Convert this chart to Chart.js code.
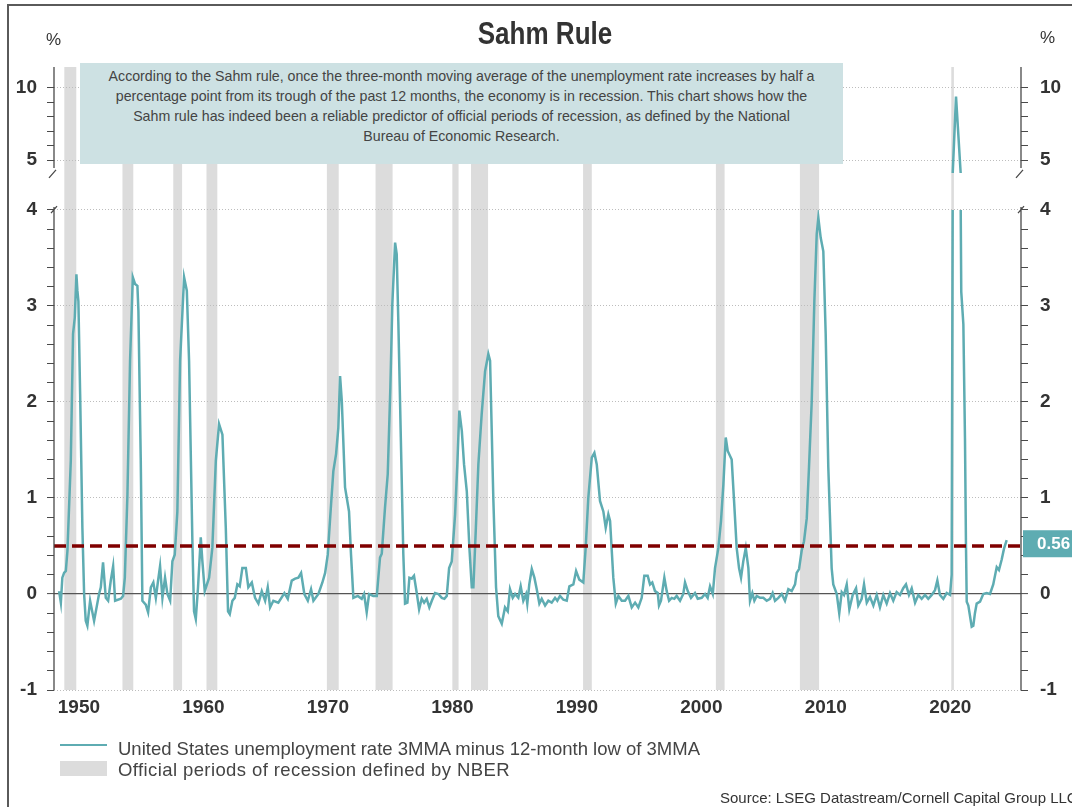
<!DOCTYPE html>
<html>
<head>
<meta charset="utf-8">
<title>Sahm Rule</title>
<script src="https://cdn.jsdelivr.net/npm/chart.js@4.4.1/dist/chart.umd.min.js"></script>
<style>
  html, body { margin: 0; padding: 0; background: #fff; }
  #page { position: relative; width: 1072px; height: 807px; overflow: hidden; font-family: 'Liberation Sans', Arial, sans-serif; }
  #chart { position: absolute; left: 0; top: 0; }
  #frame { position: absolute; left: 7px; top: 4px; width: 1200px; height: 900px; border-left: 2px solid #5a5a5a; border-top: 2px solid #5a5a5a; pointer-events: none; }
  .txt { position: absolute; white-space: nowrap; color: #333; line-height: 1; }
  #title { left: 395px; width: 300px; top: 16px; text-align: center; font: bold 31px 'Liberation Sans', Arial, sans-serif; transform: scaleX(0.84); transform-origin: 150px 0; }
  .pct { font: 17px 'Liberation Sans', Arial, sans-serif; }
  #note { position: absolute; left: 80px; top: 63px; width: 763px; height: 101px; box-sizing: border-box; padding-top: 3px;
          background: #cde1e3; color: #444; text-align: center; font: 14.2px 'Liberation Sans', Arial, sans-serif; line-height: 20px; }
  .sw { position: absolute; left: 60px; width: 47px; }
  .leg { font: 18.5px 'Liberation Sans', Arial, sans-serif; color: #444; left: 118px; }
  #source { left: 720px; top: 789px; font: 15px 'Liberation Sans', Arial, sans-serif; color: #333; }
</style>
</head>
<body>
<div id="page">
  <canvas id="chart" width="1072" height="807"></canvas>
  <div id="frame"></div>
  <div id="title" class="txt">Sahm Rule</div>
  <div class="txt pct" style="left:46px;top:30px">%</div>
  <div class="txt pct" style="left:1040px;top:28px">%</div>
  <div id="note">According to the Sahm rule, once the three-month moving average of the unemployment rate increases by half a<br>percentage point from its trough of the past 12 months, the economy is in recession. This chart shows how the<br>Sahm rule has indeed been a reliable predictor of official periods of recession, as defined by the National<br>Bureau of Economic Research.</div>
  <div class="sw" style="top:744px;height:2px;background:#5eacb2"></div>
  <div class="txt leg" style="top:738px">United States unemployment rate 3MMA minus 12-month low of 3MMA</div>
  <div class="sw" style="top:761px;height:15px;background:#dcdcdc"></div>
  <div class="txt leg" style="top:759px;letter-spacing:0.4px">Official periods of recession defined by NBER</div>
  <div id="source" class="txt">Source: LSEG Datastream/Cornell Capital Group LLC</div>
</div>
<script>
// Sahm rule reading (decimal year, %)
const years = [
  1948.41,1948.55,1948.67,1948.81,1948.95,1949.08,1949.35,1949.53,1949.67,1949.80,
  1949.88,1949.96,1950.10,1950.28,1950.42,1950.55,1950.68,1950.90,1951.22,1951.62,
  1951.76,1951.94,1952.16,1952.35,1952.56,1952.75,1952.91,1953.37,1953.55,1953.69,
  1953.90,1954.11,1954.33,1954.51,1954.70,1954.78,1954.97,1955.10,1955.37,1955.56,
  1955.78,1955.98,1956.18,1956.36,1956.52,1956.71,1956.92,1957.11,1957.33,1957.51,
  1957.70,1957.91,1958.13,1958.45,1958.67,1958.85,1959.12,1959.25,1959.39,1959.57,
  1959.79,1959.92,1960.11,1960.46,1960.72,1961.00,1961.26,1961.53,1961.80,1961.98,
  1962.12,1962.33,1962.52,1962.73,1962.92,1963.13,1963.41,1963.61,1963.89,1964.15,
  1964.42,1964.69,1964.96,1965.17,1965.36,1965.62,1966.02,1966.51,1966.78,1967.10,
  1967.37,1967.63,1967.85,1968.11,1968.39,1968.65,1968.84,1969.24,1969.56,1969.78,
  1969.99,1970.26,1970.44,1970.66,1970.84,1970.98,1971.12,1971.38,1971.70,1971.86,
  1972.05,1972.40,1972.72,1972.91,1973.12,1973.31,1973.65,1973.93,1974.19,1974.33,
  1974.59,1974.81,1975.02,1975.18,1975.40,1975.53,1975.66,1975.86,1976.06,1976.20,
  1976.39,1976.55,1976.74,1976.92,1977.14,1977.33,1977.54,1977.73,1977.94,1978.15,
  1978.35,1978.61,1978.88,1979.15,1979.36,1979.55,1979.74,1979.95,1980.22,1980.40,
  1980.56,1980.76,1980.94,1981.16,1981.37,1981.56,1981.69,1981.88,1982.09,1982.36,
  1982.63,1982.89,1983.03,1983.29,1983.51,1983.69,1983.97,1984.23,1984.45,1984.63,
  1984.85,1985.04,1985.30,1985.49,1985.70,1985.92,1986.02,1986.18,1986.38,1986.59,
  1986.78,1986.99,1987.18,1987.45,1987.71,1987.98,1988.25,1988.43,1988.65,1988.92,
  1989.19,1989.40,1989.72,1989.94,1990.20,1990.52,1990.71,1990.92,1991.20,1991.41,
  1991.60,1991.86,1992.13,1992.32,1992.53,1992.67,1992.93,1993.13,1993.34,1993.61,
  1993.87,1994.14,1994.41,1994.68,1994.94,1995.21,1995.42,1995.69,1995.88,1996.06,
  1996.28,1996.50,1996.60,1996.76,1997.03,1997.22,1997.41,1997.62,1997.83,1998.02,
  1998.29,1998.55,1998.69,1998.91,1999.17,1999.49,1999.71,2000.03,2000.30,2000.51,
  2000.70,2000.92,2001.10,2001.37,2001.58,2001.77,2001.96,2002.12,2002.44,2002.63,
  2002.84,2003.03,2003.19,2003.37,2003.57,2003.78,2003.91,2004.10,2004.26,2004.45,
  2004.72,2004.98,2005.25,2005.52,2005.73,2005.92,2006.19,2006.46,2006.72,2006.99,
  2007.26,2007.53,2007.66,2007.85,2008.06,2008.25,2008.47,2008.65,2008.87,2009.08,
  2009.27,2009.40,2009.59,2009.80,2009.99,2010.20,2010.47,2010.60,2010.88,2011.08,
  2011.28,2011.46,2011.68,2011.89,2012.16,2012.43,2012.61,2012.88,2013.07,2013.29,
  2013.55,2013.82,2014.09,2014.35,2014.62,2014.89,2015.16,2015.42,2015.69,2015.96,
  2016.22,2016.44,2016.68,2016.90,2017.17,2017.43,2017.70,2017.97,2018.23,2018.51,
  2018.77,2018.96,2019.17,2019.44,2019.71,2019.98,2020.11,2020.19,2020.46,2020.83,
  2020.88,2021.05,2021.18,2021.26,2021.32,2021.45,2021.72,2021.85,2021.98,2022.12,
  2022.39,2022.65,2022.92,2023.19,2023.45,2023.73,2023.91,2024.13,2024.31,2024.53
];
const sahm = [
  0.03,-0.09,0.17,0.22,0.24,0.45,1.39,2.71,2.88,3.33,
  3.16,3.05,2.08,0.69,0.00,-0.28,-0.33,-0.07,-0.28,0.00,
  0.07,0.33,-0.04,-0.07,0.14,0.29,-0.07,-0.05,-0.02,0.17,
  1.04,2.43,3.30,3.23,3.21,2.95,1.39,-0.07,-0.11,-0.19,
  0.07,0.12,-0.04,0.14,0.29,-0.04,0.17,0.00,-0.07,0.34,
  0.41,0.86,2.43,3.30,3.16,2.43,0.52,-0.18,-0.26,0.07,
  0.59,0.34,0.03,0.17,0.48,1.39,1.77,1.66,0.69,-0.18,
  -0.21,-0.07,-0.04,0.10,0.08,0.27,0.27,0.07,0.12,-0.04,
  -0.10,0.03,-0.07,0.07,-0.14,-0.07,-0.09,0.01,-0.05,0.14,
  0.16,0.17,0.22,0.00,-0.07,0.05,-0.07,0.00,0.12,0.22,
  0.41,0.94,1.28,1.46,1.73,2.27,2.01,1.11,0.86,0.41,
  -0.04,-0.02,-0.05,0.00,-0.19,0.00,-0.02,-0.02,0.38,0.42,
  0.90,1.25,2.15,3.02,3.66,3.54,2.84,1.63,0.42,-0.10,
  -0.09,0.17,0.16,0.19,0.01,-0.16,-0.05,-0.09,-0.05,-0.14,
  -0.07,0.01,0.00,-0.04,-0.05,-0.02,0.27,0.34,0.83,1.35,
  1.91,1.70,1.35,1.07,0.48,0.07,0.07,0.66,1.35,1.88,
  2.32,2.50,2.43,1.00,0.07,-0.23,-0.31,-0.14,-0.18,0.05,
  -0.04,0.00,-0.04,0.08,-0.07,0.00,-0.10,0.10,0.26,0.17,
  0.05,-0.10,-0.05,-0.12,-0.07,-0.09,-0.04,-0.07,-0.02,-0.06,
  -0.07,0.08,0.10,0.24,0.15,0.12,0.48,1.00,1.42,1.47,
  1.35,0.97,0.86,0.69,0.83,0.76,0.17,-0.10,-0.02,-0.07,
  -0.07,-0.02,-0.14,-0.09,-0.14,-0.04,0.19,0.19,0.10,0.12,
  0.03,0.01,-0.12,-0.07,0.17,0.03,-0.07,-0.04,-0.05,-0.02,
  -0.07,0.00,0.12,0.03,-0.04,0.01,-0.05,-0.04,0.00,-0.04,
  0.08,0.00,0.27,0.48,0.76,1.14,1.63,1.49,1.40,0.97,
  0.48,0.27,0.17,0.34,0.48,0.27,-0.07,0.01,-0.07,-0.02,
  -0.04,-0.04,-0.07,-0.05,0.01,-0.07,-0.04,0.00,-0.07,0.05,
  0.03,0.10,0.22,0.26,0.45,0.55,0.79,1.32,2.01,3.05,
  3.75,3.92,3.71,3.57,2.71,1.32,0.27,0.10,0.00,-0.20,
  0.02,-0.01,0.10,-0.16,-0.01,0.06,-0.12,-0.05,0.10,-0.09,
  -0.03,-0.12,-0.01,-0.14,-0.01,-0.10,0.01,-0.07,0.02,-0.01,
  0.06,0.10,-0.01,0.06,-0.09,-0.01,-0.05,-0.01,-0.05,-0.01,
  0.04,0.14,-0.01,-0.05,0.01,-0.01,0.20,4.00,9.40,4.15,
  3.15,2.81,1.62,0.51,-0.08,-0.12,-0.34,-0.33,-0.20,-0.10,
  -0.08,0.00,0.01,0.00,0.10,0.28,0.25,0.36,0.47,0.56
];

// NBER recessions (decimal years)
const recStart = [1948.83, 1953.50, 1957.58, 1960.25, 1969.92, 1973.83, 1980.00, 1981.50, 1990.50, 2001.17, 2007.92, 2020.08];
const recEnd   = [1949.79, 1954.37, 1958.29, 1961.12, 1970.87, 1975.20, 1980.50, 1982.87, 1991.20, 2001.87, 2009.46, 2020.29];

const threshold = 0.5;
const xTicks = [1950, 1960, 1970, 1980, 1990, 2000, 2010, 2020];
const lowLabels = [-1, 0, 1, 2, 3, 4];
const highLabels = [5, 10];

const xMin = 1948.0, xMax = 2025.68;
const teal = '#5eacb2';
const sans = "'Liberation Sans', Arial, sans-serif";
const tickFont = { family: sans, size: 19, weight: 'bold' };

// minor tick every 0.2 below the break, every 1 above it
const lowTicks = [];
for (let k = 0; k <= 25; k++) lowTicks.push((k - 5) / 5);
const highTicks = [5, 6, 7, 8, 9, 10];

const pts = years.map((x, i) => ({ x, y: sahm[i] }));

const sahmDeco = {
  id: 'sahmDeco',
  beforeDraw(chart) {
    const { ctx, chartArea: a, scales: { x } } = chart;
    ctx.save();
    ctx.fillStyle = '#dcdcdc';
    recStart.forEach((s, i) => {
      const x0 = x.getPixelForValue(s), x1 = x.getPixelForValue(recEnd[i]);
      ctx.fillRect(x0, a.top, x1 - x0, a.bottom - a.top);
    });
    ctx.restore();
  },
  beforeDatasetDraw(chart, args) {
    const ds = chart.data.datasets[args.index];
    if (!ds.band) return;
    const s = chart.scales[ds.yAxisID], a = chart.chartArea, ctx = chart.ctx;
    const y0 = s.getPixelForValue(ds.band[1]), y1 = s.getPixelForValue(ds.band[0]);
    ctx.save();
    ctx.beginPath();
    ctx.rect(a.left, y0, a.right - a.left, y1 - y0);
    ctx.clip();
  },
  afterDatasetDraw(chart, args) {
    if (chart.data.datasets[args.index].band) chart.ctx.restore();
  },
  afterDraw(chart) {
    const { ctx, chartArea: a, scales } = chart;
    const upEnd = scales.yTop.getPixelForValue(4.45);
    const lowStart = scales.yBot.getPixelForValue(4.03);
    ctx.save();
    ctx.strokeStyle = '#4a4a4a';
    ctx.lineWidth = 1.3;
    [a.left, a.right].forEach(ax => {
      ctx.beginPath();
      ctx.moveTo(ax, a.top); ctx.lineTo(ax, upEnd);
      ctx.moveTo(ax, lowStart); ctx.lineTo(ax, a.bottom);
      ctx.moveTo(ax - 5, upEnd + 10); ctx.lineTo(ax + 2, upEnd + 2);
      ctx.moveTo(ax - 3, lowStart + 6); ctx.lineTo(ax + 3, lowStart - 1);
      ctx.stroke();
    });
    // latest value tag on the right axis
    const last = sahm[sahm.length - 1];
    const y = scales.yBot.getPixelForValue(last);
    ctx.fillStyle = teal;
    ctx.fillRect(a.right + 2, y - 10, 60, 27);
    ctx.fillStyle = '#fff';
    ctx.font = 'bold 17px ' + sans;
    ctx.textBaseline = 'middle';
    ctx.fillText(last.toFixed(2), a.right + 16, y + 4);
    ctx.restore();
  }
};

function yAxis(pos, part) {
  const low = part === 'low';
  const labels = low ? lowLabels : highLabels;
  return {
    type: 'linear',
    position: pos,
    stack: pos,
    stackWeight: low ? 500 : 123,
    min: low ? -1 : 2.917,
    max: low ? 4.2083 : 11.458,
    afterBuildTicks: s => { s.ticks = (low ? lowTicks : highTicks).map(v => ({ value: v })); },
    afterFit: s => { s.width = pos === 'left' ? 54 : 51; },
    border: { display: false, dash: c => (c.tick && c.tick.value === 0) ? [] : [1, 2] },
    grid: {
      drawOnChartArea: pos === 'left',
      color: c => {
        const v = c.tick ? c.tick.value : null;
        if (v === 0) return '#555';
        return labels.includes(v) ? '#bdbdbd' : 'rgba(0,0,0,0)';
      },
      lineWidth: c => (c.tick && c.tick.value === 0) ? 1.2 : 1,
      tickLength: 7,
      tickColor: '#4a4a4a',
      tickWidth: 1
    },
    ticks: {
      autoSkip: false,
      font: tickFont,
      color: '#333',
      padding: pos === 'left' ? 10 : 12,
      callback: v => labels.includes(v) ? String(v) : ''
    }
  };
}

new Chart(document.getElementById('chart'), {
  type: 'line',
  data: {
    datasets: [
      { label: 'Threshold', data: [{ x: xMin, y: threshold }, { x: xMax, y: threshold }], yAxisID: 'yBot',
        borderColor: '#800000', borderWidth: 3.5, borderDash: [12, 6], pointRadius: 0 },
      { label: 'United States unemployment rate 3MMA minus 12-month low of 3MMA', data: pts, yAxisID: 'yBot',
        band: [-5, 4.0], borderColor: teal, borderWidth: 2.5, pointRadius: 0, tension: 0 },
      { label: 'United States unemployment rate 3MMA minus 12-month low of 3MMA', data: pts, yAxisID: 'yTop',
        band: [4.1, 30], borderColor: teal, borderWidth: 2.5, pointRadius: 0, tension: 0 }
    ]
  },
  options: {
    responsive: false,
    animation: false,
    layout: { padding: { top: 67, bottom: 77, left: 0, right: 0 } },
    plugins: { legend: { display: false }, tooltip: { enabled: false } },
    scales: {
      x: {
        type: 'linear', min: xMin, max: xMax,
        grid: { display: false, drawTicks: false },
        border: { display: false },
        afterBuildTicks: s => { s.ticks = xTicks.map(v => ({ value: v })); },
        afterFit: s => { s.height = 40; },
        ticks: { autoSkip: false, font: tickFont, color: '#333', padding: 6, maxRotation: 0, callback: v => String(v) }
      },
      yBot: yAxis('left', 'low'),
      yTop: yAxis('left', 'high'),
      yTopR: yAxis('right', 'high'),
      yBotR: yAxis('right', 'low')
    }
  },
  plugins: [sahmDeco]
});
</script>
</body>
</html>
